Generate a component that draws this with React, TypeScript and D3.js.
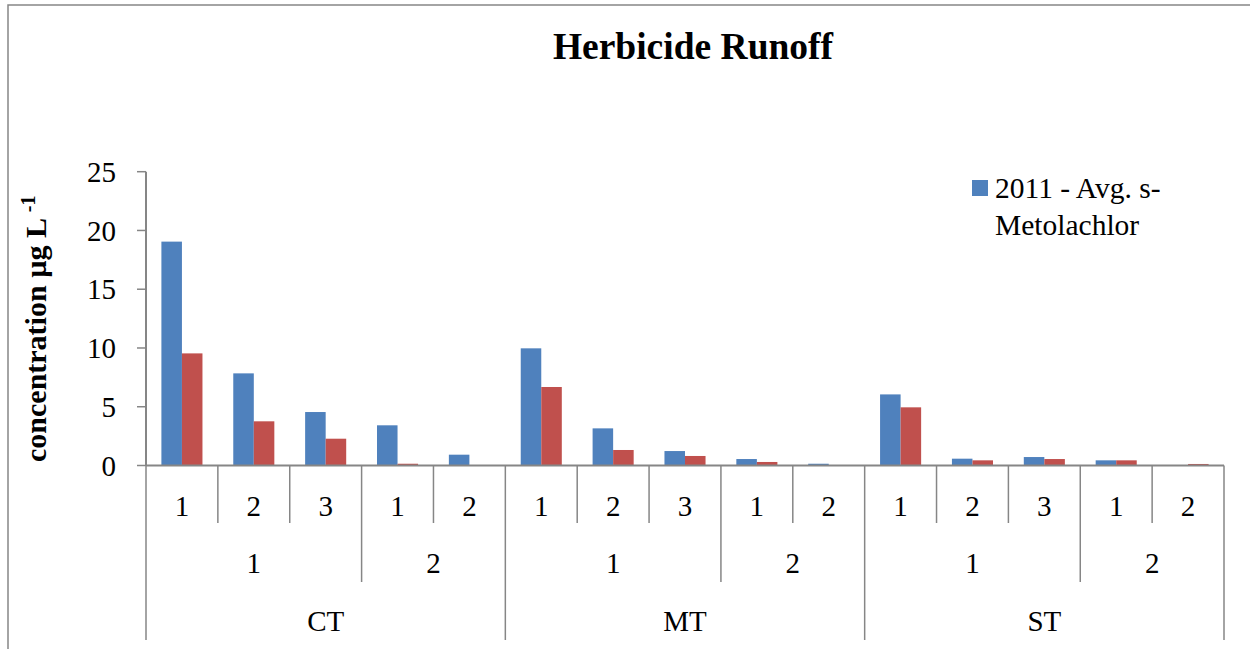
import React from "react";
import * as d3 from "d3";

// chart data
const treatments = ["CT", "MT", "ST"];
const plots = ["1", "2"];
const eventsPerPlot = [["1", "2", "3"], ["1", "2"]];
const seriesNames = ["2011 - Avg. s-Metolachlor", "2011 - second series"];
const metolachlorA = [19.05, 7.84, 4.55, 3.42, 0.92, 9.97, 3.16, 1.23, 0.55, 0.15, 6.05, 0.58, 0.72, 0.44, 0.03];
const metolachlorB = [9.54, 3.76, 2.28, 0.15, 0, 6.68, 1.32, 0.81, 0.3, 0, 4.95, 0.44, 0.55, 0.44, 0.13];
const yTicks = [0, 5, 10, 15, 20, 25];
const colors = ["#4F81BD", "#C0504D"];

const W = 1250;
const H = 649;
const left = 146;
const right = 1224;
const top = 171.7;
const bottom = 465.5;
const axisColor = "#868686";
const font = "'Liberation Serif', 'Times New Roman', serif";

export default function App() {
  // flatten the 3-level category tree
  const cats: { t: number; p: number; e: string; idx: number }[] = [];
  treatments.forEach((_, t) =>
    plots.forEach((_, p) =>
      eventsPerPlot[p].forEach((e) => cats.push({ t, p, e, idx: cats.length }))
    )
  );

  const x = d3.scaleBand<number>().domain(cats.map((c) => c.idx)).range([left, right]).padding(0);
  const inner = d3
    .scaleBand<number>()
    .domain([0, 1])
    .range([0, x.bandwidth()])
    .paddingInner(0)
    .paddingOuter(0.75);
  const y = d3.scaleLinear().domain([0, 25]).range([bottom, top]);
  const series = [metolachlorA, metolachlorB];

  // divider positions
  const edge = (i: number) => (i < cats.length ? (x(i) as number) : right);
  const lines: { x: number; y2: number }[] = [];
  cats.forEach((c, i) => {
    const prev = cats[i - 1];
    let y2 = 523;
    if (!prev || prev.t !== c.t) y2 = 640;
    else if (prev.p !== c.p) y2 = 582;
    lines.push({ x: edge(i), y2 });
  });
  lines.push({ x: right, y2: 640 });

  const plotLabels: { x: number; text: string }[] = [];
  const treatLabels: { x: number; text: string }[] = [];
  treatments.forEach((tName, t) => {
    const tc = cats.filter((c) => c.t === t);
    treatLabels.push({ x: (edge(tc[0].idx) + edge(tc[tc.length - 1].idx + 1)) / 2, text: tName });
    plots.forEach((pName, p) => {
      const pc = tc.filter((c) => c.p === p);
      plotLabels.push({ x: (edge(pc[0].idx) + edge(pc[pc.length - 1].idx + 1)) / 2, text: pName });
    });
  });

  return (
    <div style={{ position: "absolute", left: 0, top: 0 }}>
      <svg width={W} height={H} style={{ display: "block", background: "#fff" }} fontFamily={font}>
        {/* chart frame */}
        <rect x={8} y={5} width={W + 20} height={H + 20} fill="none" stroke={axisColor} strokeWidth={1.5} />

        <text x={693} y={59} textAnchor="middle" fontSize={37.5} fontWeight="bold">
          Herbicide Runoff
        </text>

        {/* bars */}
        {series.map((vals, s) =>
          vals.map((v, i) => (
            <rect
              key={`${s}-${i}`}
              x={(x(i) as number) + (inner(s) as number)}
              y={y(v)}
              width={inner.bandwidth()}
              height={bottom - y(v)}
              fill={colors[s]}
            />
          ))
        )}

        {/* y axis */}
        <line x1={left} x2={left} y1={top} y2={bottom} stroke={axisColor} strokeWidth={2} />
        {yTicks.map((t) => (
          <g key={t}>
            <line x1={left - 9} x2={left} y1={y(t)} y2={y(t)} stroke={axisColor} strokeWidth={1.5} />
            <text x={116} y={y(t)} dy="0.35em" textAnchor="end" fontSize={29}>
              {t}
            </text>
          </g>
        ))}

        <text transform={`translate(46,${462}) rotate(-90)`} fontSize={30} fontWeight="bold">
          concentration µg L{" "}
          <tspan fontSize={20} dy={-11}>
            -1
          </tspan>
        </text>

        {/* x axis, multi-level categories */}
        <line x1={left} x2={right} y1={bottom} y2={bottom} stroke={axisColor} strokeWidth={2} />
        {lines.map((l, i) => (
          <line key={i} x1={l.x} x2={l.x} y1={bottom} y2={l.y2} stroke={axisColor} strokeWidth={1.5} />
        ))}
        {cats.map((c) => (
          <text key={c.idx} x={(x(c.idx) as number) + x.bandwidth() / 2} y={516} textAnchor="middle" fontSize={29}>
            {c.e}
          </text>
        ))}
        {plotLabels.map((l, i) => (
          <text key={i} x={l.x} y={573} textAnchor="middle" fontSize={29}>
            {l.text}
          </text>
        ))}
        {treatLabels.map((l, i) => (
          <text key={i} x={l.x} y={631} textAnchor="middle" fontSize={29}>
            {l.text}
          </text>
        ))}

        {/* legend (only first entry is visible) */}
        <rect x={972} y={180} width={16} height={16} fill={colors[0]} />
        <text x={995} y={198} fontSize={29.5}>
          2011 - Avg. s-
        </text>
        <text x={995} y={235} fontSize={29.5}>
          Metolachlor
        </text>
      </svg>
    </div>
  );
}
